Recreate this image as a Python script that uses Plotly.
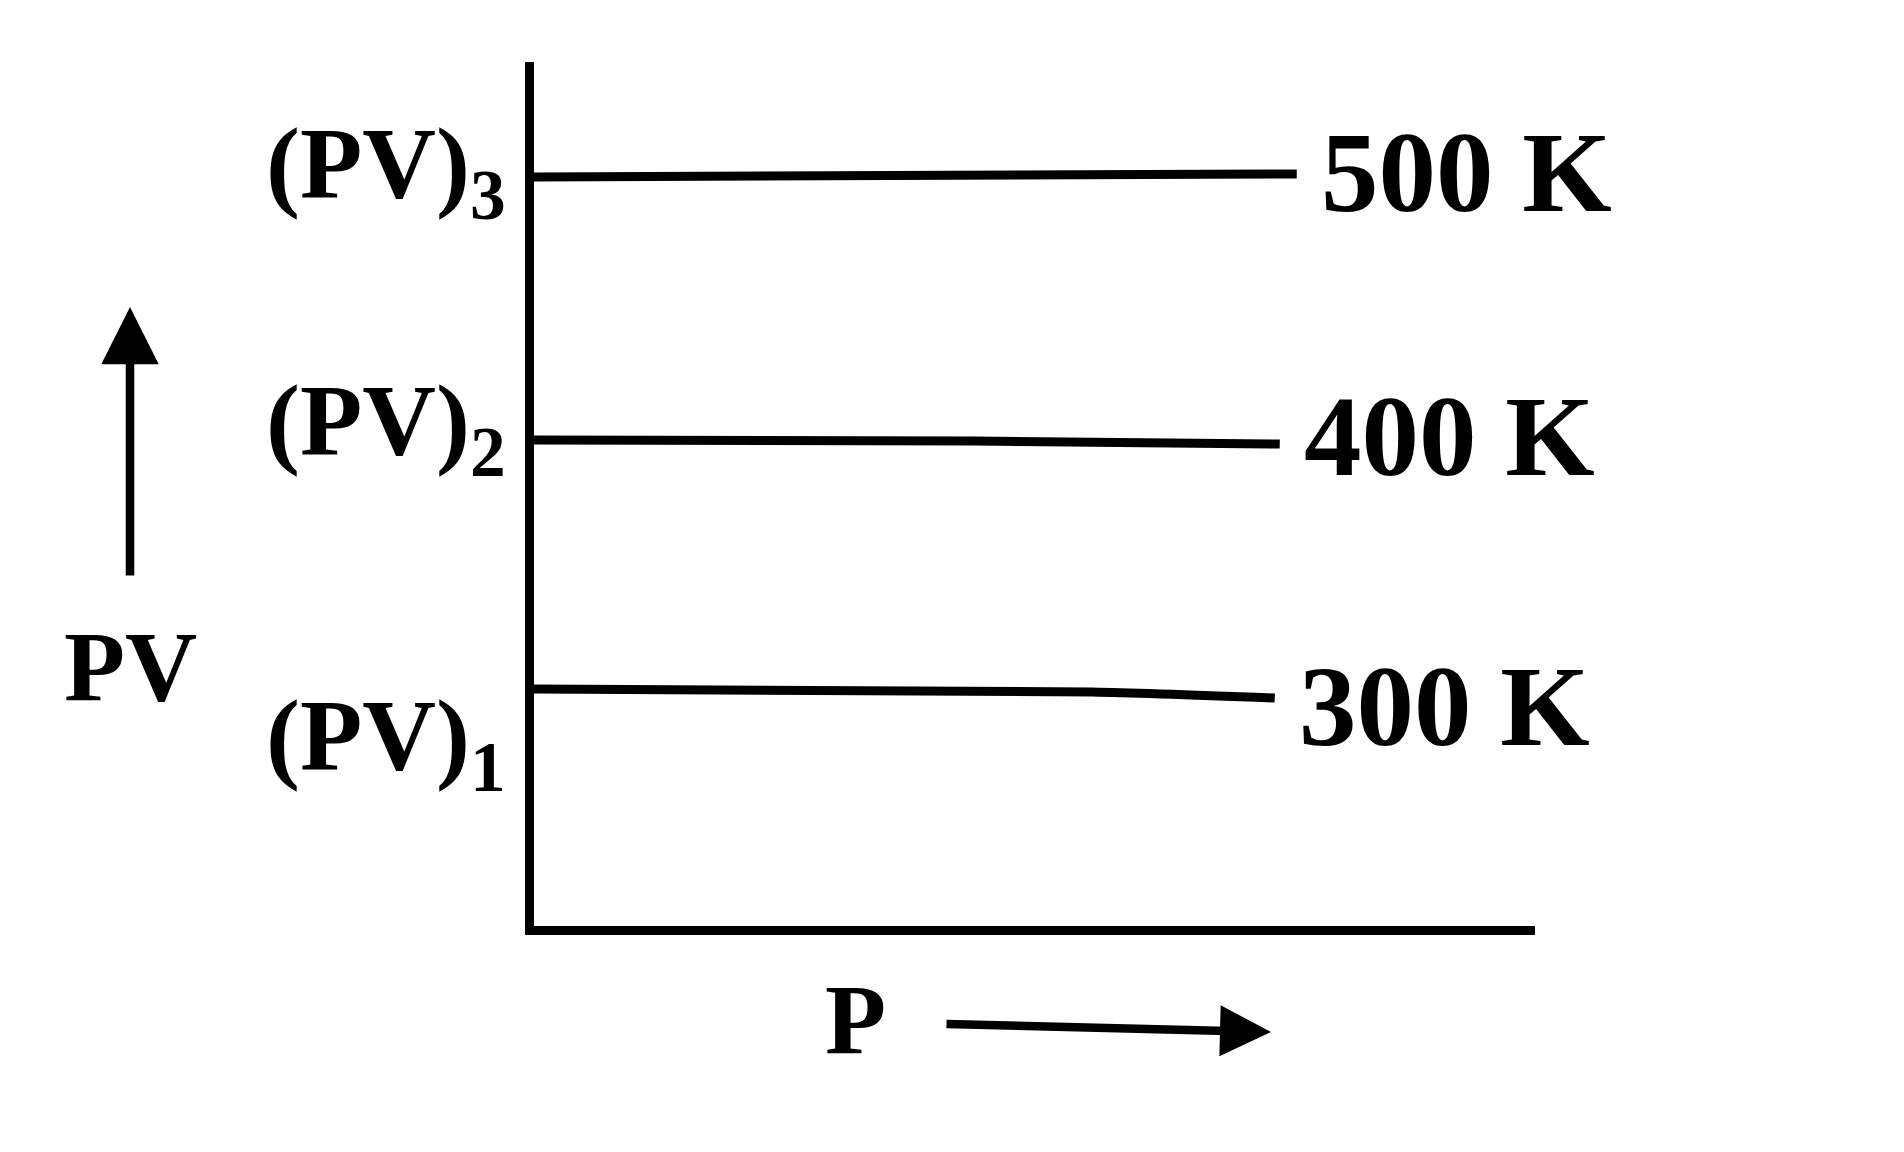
import plotly.graph_objects as go

# ---- data (arbitrary PV / P units) ----
temperatures = ["300 K", "400 K", "500 K"]
p_300 = [0.0, 5.58, 7.40]
pv_300 = [2.37, 2.34, 2.28]
p_400 = [0.0, 4.40, 7.45]
pv_400 = [4.86, 4.85, 4.82]
p_500 = [0.0, 7.62]
pv_500 = [7.49, 7.52]
pv_level_labels = ["(PV)<sub>1</sub>", "(PV)<sub>2</sub>", "(PV)<sub>3</sub>"]
pv_label_pos = [1.84, 4.99, 7.56]
x_title = "P"
y_title = "PV"

# ---- layout geometry (pixels) ----
W, H = 1904, 1152
L, R, T, B = 534, 1904 - 1535, 62, 1152 - 926
PW, PH = W - L - R, H - T - B


def paper_x(px):
    return (px - L) / PW


def paper_y(py):
    return (H - B - py) / PH


FONT = "Liberation Serif, Times New Roman, serif"
label_yshift = [-8, 8, 2]

fig = go.Figure()
series = [(p_300, pv_300), (p_400, pv_400), (p_500, pv_500)]
for name, (xs, ys), ysh in zip(temperatures, series, label_yshift):
    fig.add_trace(go.Scatter(x=xs, y=ys, mode="lines", name=name,
                             line=dict(color="black", width=9, shape="spline", smoothing=0.6),
                             showlegend=False, hoverinfo="skip"))
    fig.add_annotation(x=xs[-1], y=ys[-1], xref="x", yref="y", text=name,
                       showarrow=False, xanchor="left", yanchor="middle", xshift=22, yshift=ysh,
                       font=dict(family=FONT, size=115, color="black", weight="bold"))

for lab, yv in zip(pv_level_labels, pv_label_pos):
    fig.add_annotation(x=paper_x(508), y=yv, xref="paper", yref="y", text=lab,
                       showarrow=False, xanchor="right", yanchor="middle",
                       font=dict(family=FONT, size=102, color="black", weight="bold"))

# axis titles
fig.add_annotation(x=paper_x(130), y=paper_y(666), xref="paper", yref="paper", text=y_title,
                   showarrow=False, xanchor="center", yanchor="middle",
                   font=dict(family=FONT, size=100, color="black", weight="bold"))
fig.add_annotation(x=paper_x(855), y=paper_y(1019), xref="paper", yref="paper", text=x_title,
                   showarrow=False, xanchor="center", yanchor="middle",
                   font=dict(family=FONT, size=100, color="black", weight="bold"))
# direction arrows
fig.add_annotation(x=paper_x(130), y=paper_y(307), xref="paper", yref="paper", text="",
                   showarrow=True, arrowhead=2, arrowsize=1.35, arrowwidth=8.5, arrowcolor="black",
                   ax=0, ay=270)
fig.add_annotation(x=paper_x(1271), y=paper_y(1032), xref="paper", yref="paper", text="",
                   showarrow=True, arrowhead=2, arrowsize=1.2, arrowwidth=8.5, arrowcolor="black",
                   ax=-326, ay=-8)

axis_common = dict(showgrid=False, zeroline=False, showticklabels=False, ticks="",
                   showline=True, linecolor="black", linewidth=9)
fig.update_xaxes(range=[0, 10], **axis_common)
fig.update_yaxes(range=[0, 8.64], **axis_common)
fig.update_layout(width=W, height=H, autosize=False,
                  margin=dict(l=L, r=R, t=T, b=B),
                  paper_bgcolor="white", plot_bgcolor="white")

fig.write_html("out.html", config={"displayModeBar": False},
               post_script="document.body.style.margin='0';")
